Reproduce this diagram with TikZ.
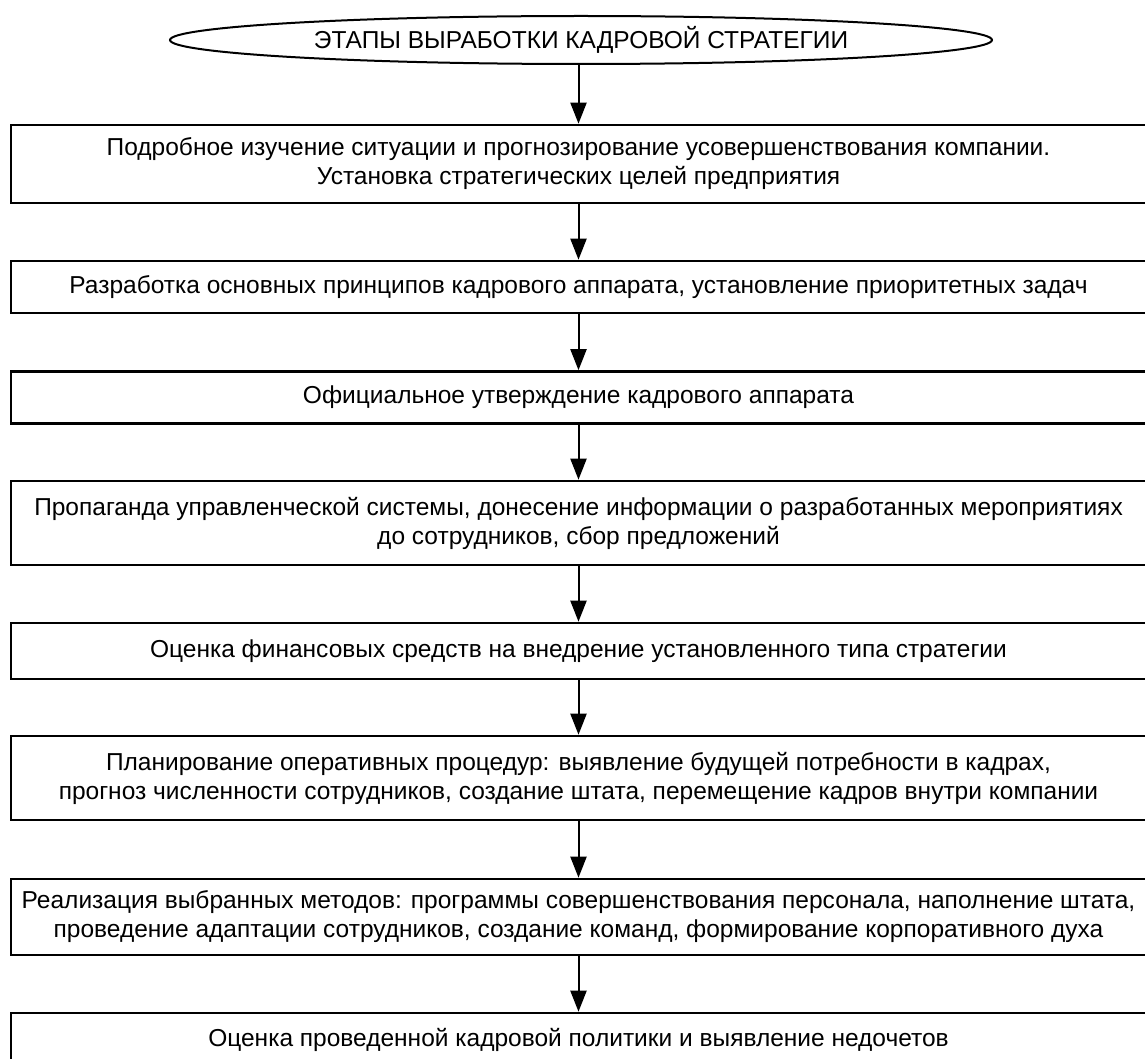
\documentclass[tikz,border=0pt]{standalone}
\usepackage{fontspec}
\setmainfont{Liberation Sans}
\usetikzlibrary{arrows.meta,shapes.geometric}

\begin{document}
\begin{tikzpicture}[x=1pt,y=-1pt,
    etap/.style={draw, line width=2.6pt, minimum width=1135pt, align=center,
      inner sep=0pt, font=\fontsize{24.5}{29}\selectfont},
    strelka/.style={-{Triangle[width=16pt,length=21pt]}, line width=2pt}]
  \useasboundingbox (0,0) rectangle (1145,1059);

  \node[ellipse, draw, line width=2pt, minimum width=822pt, minimum height=48pt,
    inner sep=0pt, font=\fontsize{24.5}{28}\selectfont] (zag) at (581,40)
    {ЭТАПЫ ВЫРАБОТКИ КАДРОВОЙ СТРАТЕГИИ};

  \node[etap, minimum height=78pt] (e1) at (578.5,164)
    {Подробное изучение ситуации и прогнозирование усовершенствования компании.\\
     Установка стратегических целей предприятия};
  \node[etap, minimum height=52pt] (e2) at (578.5,287)
    {Разработка основных принципов кадрового аппарата, установление приоритетных задач};
  \node[etap, minimum height=52pt] (e3) at (578.5,397.5)
    {Официальное утверждение кадрового аппарата};
  \node[etap, minimum height=84pt] (e4) at (578.5,523)
    {Пропаганда управленческой системы, донесение информации о разработанных мероприятиях\\
     до сотрудников, сбор предложений};
  \node[etap, minimum height=56pt] (e5) at (578.5,651)
    {Оценка финансовых средств на внедрение установленного типа стратегии};
  \node[etap, minimum height=84pt] (e6) at (578.5,778)
    {Планирование оперативных процедур: выявление будущей потребности в кадрах,\\
     прогноз численности сотрудников, создание штата, перемещение кадров внутри компании};
  \node[etap, minimum height=76pt] (e7) at (578.5,917)
    {Реализация выбранных методов: программы совершенствования персонала, наполнение штата,\\
     проведение адаптации сотрудников, создание команд, формирование корпоративного духа};
  \node[etap, minimum height=54pt] (e8) at (578.5,1040)
    {Оценка проведенной кадровой политики и выявление недочетов};

  \draw[strelka] (zag.south -| e1.north) -- (e1.north);
  \foreach \a/\b in {e1/e2, e2/e3, e3/e4, e4/e5, e5/e6, e6/e7, e7/e8}
    \draw[strelka] (\a) -- (\b);

\end{tikzpicture}
\end{document}
